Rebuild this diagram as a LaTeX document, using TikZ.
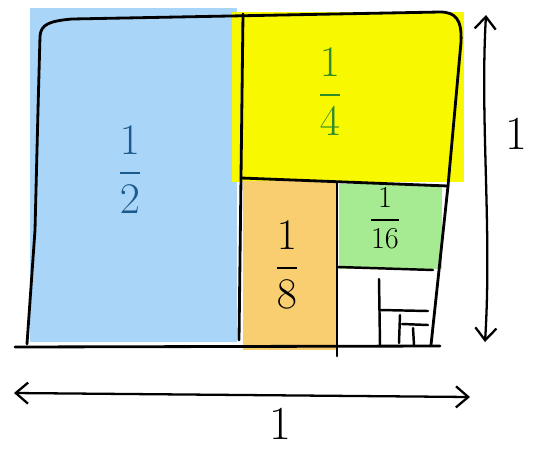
\documentclass[tikz,border=0pt]{standalone}
\usepackage{amsmath}
\usepackage{xcolor}
\usetikzlibrary{positioning,arrows.meta}
\definecolor{halfblue}{HTML}{A9D5F8}
\definecolor{quarteryellow}{HTML}{F8F800}
\definecolor{eighthorange}{HTML}{F8CE70}
\definecolor{sixteenthgreen}{HTML}{A6EA92}
\definecolor{inkblue}{HTML}{1B5A8C}
\definecolor{inkgreen}{HTML}{2E8C2A}

\begin{document}
\begin{tikzpicture}[x=0.02cm, y=-0.02cm,
  pen/.style={line width=1.6pt, line cap=round, line join=round},
  thinpen/.style={line width=1.4pt, line cap=round},
  frac/.style={inner sep=0pt, font=\fontsize{27}{30}\selectfont},
  dimarrow/.style={pen, line width=1.3pt, {Straight Barb[length=7pt,width=12pt]}-{Straight Barb[length=7pt,width=12pt]}}]
\useasboundingbox (0,0) rectangle (537,450);
% farbige Flaechen
\fill[halfblue] (30,8) rectangle (237,342);
\fill[quarteryellow] (232,12) rectangle (464,182);
\fill[eighthorange] (243,181) rectangle (336,350);
\fill[sixteenthgreen] (339,184) rectangle (442,269);
% Umriss des Quadrats
\draw[pen] (27,344) -- (35,230) -- (38,110) -- (40,36)
  .. controls (41,24) and (50,21) .. (72,19) -- (440,12)
  .. controls (456,12) and (462,20) .. (461,42) -- (448,186) -- (431,345);
\draw[pen] (15,347) -- (440,346);
% Teilungen
\draw[pen] (243,14) -- (239,340);
\draw[pen] (241,178) -- (448,186);
\draw[pen] (337,183) -- (337,356);
\draw[thinpen] (338,267) -- (433,270);
\draw[thinpen] (379,279) -- (380,345);
\draw[thinpen] (380,310) -- (428,311);
\draw[thinpen] (400,315) -- (399,343);
\draw[thinpen] (402,324) -- (428,325);
\draw[thinpen] (413,328) -- (414,345);
% Brueche
\node[frac, text=inkblue] (half) at (130,170) {$\dfrac{1}{2}$};
\node[frac, text=inkgreen] (quarter) at (330,92) {$\dfrac{1}{4}$};
\node[frac] (eighth) at (287,265) {$\dfrac{1}{8}$};
\node[frac, font=\fontsize{17}{19}\selectfont] (sixteenth) at (385,218) {$\dfrac{1}{16}$};
% Masspfeile
\coordinate (vtop) at (486,15);
\coordinate (vbot) at (485,342);
\coordinate (hleft) at (14,393);
\coordinate (hright) at (470,397);
\draw[dimarrow] (vtop) .. controls (480,120) and (492,230) .. (vbot);
\draw[dimarrow] (hleft) -- (hright);
\node[font=\fontsize{27}{29}\selectfont, inner sep=0pt] (sidelen) at (516,134) {1};
\node[font=\fontsize{27}{29}\selectfont, inner sep=0pt] (baselen) at (280,424) {1};
\end{tikzpicture}
\end{document}
